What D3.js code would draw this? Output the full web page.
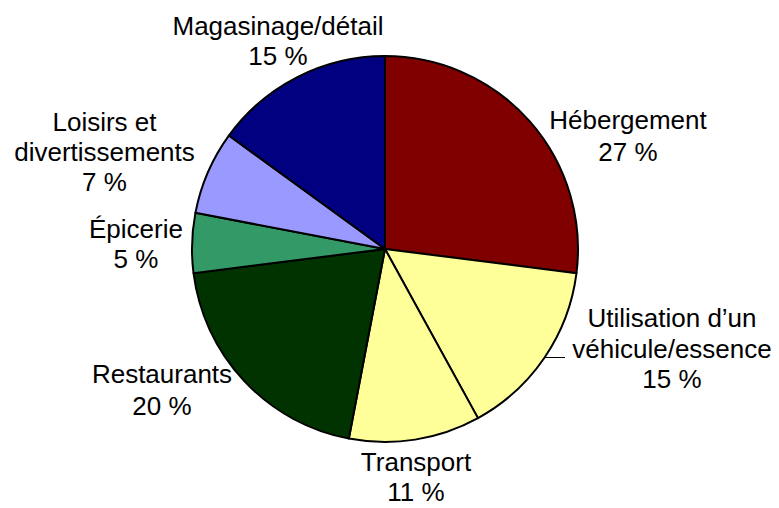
<!DOCTYPE html>
<html><head><meta charset="utf-8">
<script src="https://cdn.jsdelivr.net/npm/d3@7"></script>
<style>html,body{margin:0;padding:0;background:#fff;}svg{display:block;}</style>
</head><body>
<svg id="chart" width="779" height="508"></svg>
<script>
const categories = ["Hébergement","Utilisation d\u2019un véhicule/essence","Transport","Restaurants","Épicerie","Loisirs et divertissements","Magasinage/détail"];
const values = [27, 15, 11, 20, 5, 7, 15];
const labelLines = [["Hébergement"],["Utilisation d\u2019un","véhicule/essence"],["Transport"],["Restaurants"],["Épicerie"],["Loisirs et","divertissements"],["Magasinage/détail"]];

// layout / style (not data)
const colors = ["#800000","#FFFF99","#FFFF99","#003300","#339966","#9999FF","#000080"];
const labelPos = [[628,129],[672,327],[416,471],[162,383],[136,238],[104.5,131],[278,35]];
const lineHs = [32, 30.5, 30, 32, 30, 30, 30];
const cx = 385, cy = 249, R = 193;

const svg = d3.select("#chart");
const pie = d3.pie().sort(null).value(d => d)(values);
const arc = d3.arc().innerRadius(0).outerRadius(R);
const g = svg.append("g").attr("transform", `translate(${cx},${cy})`);
g.selectAll("path").data(pie).join("path")
  .attr("d", arc)
  .attr("fill", (d,i) => colors[i])
  .attr("stroke", "#000").attr("stroke-width", 2).attr("stroke-linejoin","round");

// leader line for Utilisation label
const ly = 357 - cy;
const lx = Math.sqrt(R*R - ly*ly);
svg.append("line").attr("x1", cx + lx).attr("y1", 357.5).attr("x2", 565).attr("y2", 357.5)
  .attr("stroke", "#000").attr("stroke-width", 1);

const lab = svg.append("g").attr("font-family", "'Liberation Sans', Arial, sans-serif")
  .attr("font-size", 26).attr("text-anchor", "middle").attr("fill", "#000");
categories.forEach((c, i) => {
  const lines = labelLines[i].concat([values[i] + " %"]);
  const t = lab.append("text").attr("x", labelPos[i][0]).attr("y", labelPos[i][1]);
  lines.forEach((l, k) => t.append("tspan").attr("x", labelPos[i][0]).attr("dy", k === 0 ? 0 : lineHs[i]).text(l));
});
</script>
</body></html>
